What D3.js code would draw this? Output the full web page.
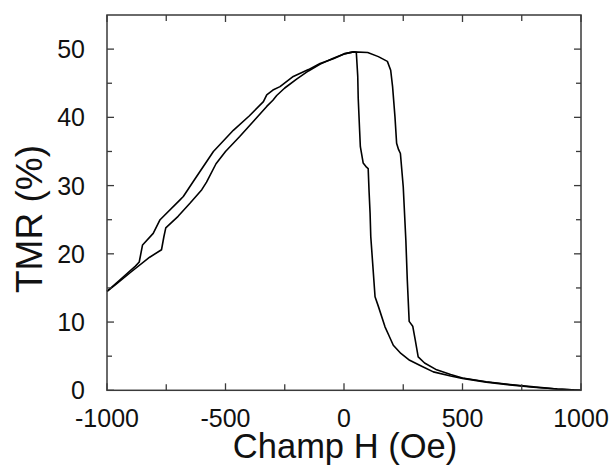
<!DOCTYPE html>
<html><head><meta charset="utf-8">
<script src="https://cdn.jsdelivr.net/npm/d3@7"></script>
<style>body{margin:0;background:#fff}svg{display:block}</style>
</head><body>
<script>
// Branch A (field swept upward)
const hA = [-1000,-960,-900,-820,-770,-760,-752,-700,-650,-600,-580,-540,-500,-440,-380,-326,-300,-284,-250,-200,-150,-100,-50,0,40,100,145,183,197,205,215,222,230,238,250,261,267,275,290,300,313,340,391,450,500,600,700,800,900,1000];
const tmrA = [14.5,15.6,17.3,19.5,20.6,22.5,23.8,25.5,27.4,29.4,30.5,33.2,35.0,37.2,39.5,41.6,42.5,43.2,44.3,45.6,46.8,47.8,48.6,49.3,49.6,49.5,48.9,48.2,46.9,44.5,40.1,36.2,35.3,34.7,29.8,22.0,16.2,10.1,9.4,7.5,4.9,4.0,3.0,2.3,1.8,1.25,0.85,0.5,0.2,0];
// Branch B (field swept downward)
const hB = [-1000,-945,-880,-864,-850,-805,-776,-692,-678,-636,-551,-467,-400,-340,-326,-300,-270,-214,-150,-101,-45,0,40,52,58,60,66,69,81,95,102,106,110,113,121,131,145,173,190,208,240,277,330,377,450,500,600,700,800,900,1000];
const tmrB = [14.5,16.2,18.2,18.8,21.3,23.0,25.0,27.9,28.4,30.6,35.0,38.1,40.2,42.3,43.3,44.0,44.5,46.0,47.0,47.9,48.6,49.3,49.6,49.5,46,42.8,38,35.7,33.3,32.7,32.5,29,26,22.5,18.6,13.7,12.3,9.3,8,6.6,5.4,4.4,3.5,2.7,2.1,1.75,1.2,0.8,0.45,0.18,0];
const xTicks = [-1000,-500,0,500,1000];
const xMinor = [-750,-250,250,750];
const yTicks = [0,10,20,30,40,50];
const yMinor = [5,15,25,35,45];
const xTitle = "Champ H (Oe)";
const yTitle = "TMR (%)";

const W = 611, H = 465;
const L = 107, R = 581, T = 15, B = 390.3;
const font = "'Liberation Sans', Arial, Helvetica, sans-serif";
const svg = d3.select("body").append("svg").attr("width", W).attr("height", H);
const x = d3.scaleLinear().domain([-1000, 1000]).range([L, R]);
const y = d3.scaleLinear().domain([0, 55]).range([B, T]);
const axisColor = "#3a3a3a";

// curves
const line = d3.line().x(d => x(d[0])).y(d => y(d[1]));
[[hA, tmrA], [hB, tmrB]].forEach(([hs, ts]) => {
  svg.append("path").datum(hs.map((h, i) => [h, ts[i]]))
    .attr("d", line).attr("fill", "none").attr("stroke", "#000")
    .attr("stroke-width", 1.6).attr("stroke-linejoin", "round");
});

// frame
svg.append("rect").attr("x", L).attr("y", T).attr("width", R - L).attr("height", B - T)
  .attr("fill", "none").attr("stroke", axisColor).attr("stroke-width", 1.5);

// ticks
const g = svg.append("g").attr("stroke", axisColor).attr("stroke-width", 1.3);
xTicks.concat(xMinor).forEach(v => {
  const len = xTicks.includes(v) ? 7 : 6;
  g.append("line").attr("x1", x(v)).attr("x2", x(v)).attr("y1", B).attr("y2", B - len);
  g.append("line").attr("x1", x(v)).attr("x2", x(v)).attr("y1", T).attr("y2", T + len);
});
yTicks.concat(yMinor).forEach(v => {
  const len = yTicks.includes(v) ? 7 : 5;
  g.append("line").attr("y1", y(v)).attr("y2", y(v)).attr("x1", L).attr("x2", L + len);
  g.append("line").attr("y1", y(v)).attr("y2", y(v)).attr("x1", R).attr("x2", R - len);
});

// tick labels
svg.append("g").selectAll("text").data(xTicks).join("text")
  .attr("x", d => x(d)).attr("y", B + 37).attr("text-anchor", "middle")
  .attr("font-family", font).attr("font-size", 25).attr("fill", "#111").text(d => d);
svg.append("g").selectAll("text").data(yTicks).join("text")
  .attr("x", L - 22).attr("y", d => y(d)).attr("dy", "0.36em").attr("text-anchor", "end")
  .attr("font-family", font).attr("font-size", 25).attr("fill", "#111").text(d => d);

// titles
svg.append("text").attr("x", 345).attr("y", 458).attr("text-anchor", "middle")
  .attr("font-family", font).attr("font-size", 34.5).attr("fill", "#111").text(xTitle);
svg.append("text").attr("transform", "translate(42,219) rotate(-90)").attr("text-anchor", "middle")
  .attr("font-family", font).attr("font-size", 37).attr("fill", "#111").text(yTitle);
</script>
</body></html>
